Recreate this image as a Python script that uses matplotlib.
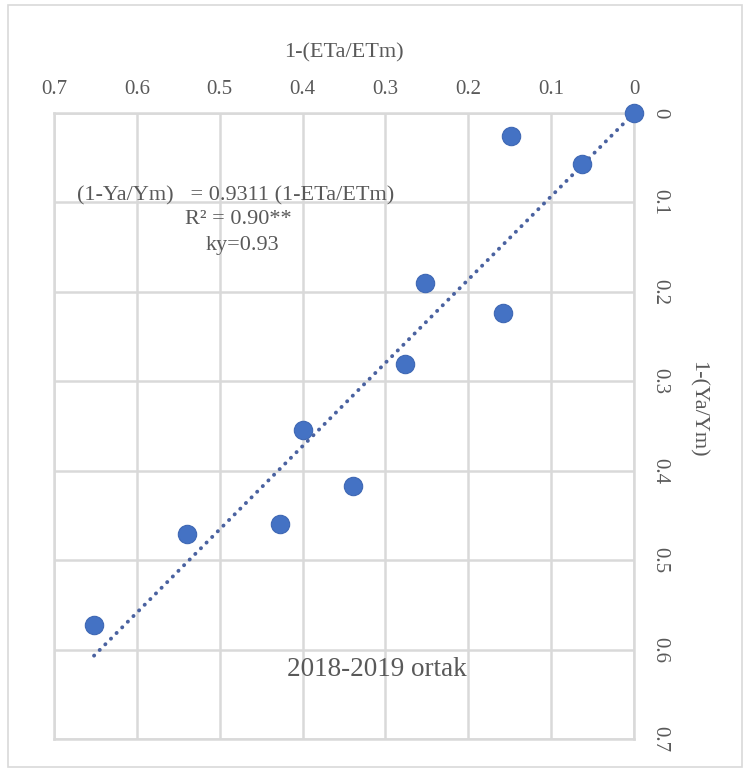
import numpy as np
import matplotlib.pyplot as plt
from matplotlib.patches import Rectangle

# data
eta_etm = [0.0, 0.148, 0.063, 0.252, 0.158, 0.277, 0.399, 0.339, 0.427, 0.540, 0.652]
ya_ym = [0.0, 0.026, 0.057, 0.190, 0.224, 0.281, 0.355, 0.417, 0.460, 0.471, 0.572]
slope = 0.9311
ticks = [0, 0.1, 0.2, 0.3, 0.4, 0.5, 0.6, 0.7]
tick_labels = ["0", "0.1", "0.2", "0.3", "0.4", "0.5", "0.6", "0.7"]

plt.rcParams["font.family"] = ["Liberation Serif", "DejaVu Serif"]
txt = "#595959"
grid = "#d9d9d9"

fig = plt.figure(figsize=(7.44, 7.69), dpi=100)
fig.patches.append(Rectangle((0.011, 0.002), 0.986, 0.992, transform=fig.transFigure,
                             fill=False, edgecolor="#d9d9d9", linewidth=1.2))

ax = fig.add_axes([0.0726, 0.039, 0.7796, 0.814])

# trendline through origin
xs = np.array([0, max(eta_etm)])
ax.plot(xs, slope * xs, linestyle=(0, (0.05, 2.0)), color="#4a62a0", linewidth=2.8,
        dash_capstyle="round", zorder=2)
ax.scatter(eta_etm, ya_ym, s=175, color="#4472c4", edgecolor="#3f68b4", linewidth=0.8, zorder=3,
           clip_on=False)

ax.set_xlim(0.7, 0)
ax.set_ylim(0.7, 0)
ax.set_xticks(ticks)
ax.set_xticklabels(tick_labels)
ax.set_yticks(ticks)
ax.set_yticklabels(tick_labels, rotation=-90, va="center")
ax.xaxis.tick_top()
ax.yaxis.tick_right()
ax.xaxis.set_label_position("top")
ax.yaxis.set_label_position("right")
ax.tick_params(length=0, labelsize=15, labelcolor=txt)
ax.tick_params(axis="x", pad=10)
ax.tick_params(axis="y", pad=12)
ax.grid(True, color=grid, linewidth=1.8)
for s in ax.spines.values():
    s.set_color(grid)
    s.set_linewidth(1.8)

ax.set_xlabel("1-(ETa/ETm)", fontsize=16, color=txt, labelpad=16)
ax.set_ylabel("1-(Ya/Ym)", fontsize=16, color=txt, rotation=-90)
ax.yaxis.set_label_coords(1.125, 0.527)

ax.text(0.672, 0.093, "(1-Ya/Ym)   = 0.9311 (1-ETa/ETm)", fontsize=16, color=txt, va="center")
ax.text(0.478, 0.119, "R² = 0.90**", fontsize=16, color=txt, va="center", ha="center")
ax.text(0.472, 0.148, "ky=0.93", fontsize=16, color=txt, va="center", ha="center")
ax.text(0.31, 0.622, "2018-2019 ortak", fontsize=19.5, color=txt, va="center", ha="center")

fig.savefig("out.png", dpi=100)
